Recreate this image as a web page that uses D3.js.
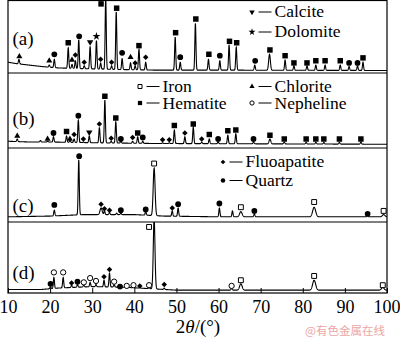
<!DOCTYPE html>
<html><head><meta charset="utf-8">
<script src="https://cdn.jsdelivr.net/npm/d3@7"></script>
<style>body{margin:0;background:#fff} svg{display:block}</style>
</head><body>
<script>
const xTicks = [10,20,30,40,50,60,70,80,90,100];
const panelLabels = ["(a)","(b)","(c)","(d)"];
const phaseNames = {iron:"Iron", hematite:"Hematite", chlorite:"Chlorite", nepheline:"Nepheline",
  fluoapatite:"Fluoapatite", quartz:"Quartz", calcite:"Calcite", dolomite:"Dolomite"};

// baselines [2θ, intensity a.u.]
const baselineA = [[10,15],[12,13],[15,11],[18,9],[22,7],[28,6],[35,5],[45,4],[60,4],[100,3.5]];
const baselineB = [[10,9],[15,8],[20,8],[30,7],[45,6],[100,5]];
const baselineC = [[10,7],[20,8],[28,10],[40,10],[47,8],[60,7],[100,7]];
const baselineD = [[10,5],[18,5],[22,7],[30,9],[38,8],[44,6],[50,4],[100,4]];

// peaks [2θ, top intensity, optional width]
const peaksA = [[12.6,19],[19.8,11],[21.0,19],[24.3,35],[25.2,12],[26.0,17],[26.8,46],[28.1,10],[29.5,37],[31.0,45],[32.0,14],[33.2,105],[34.6,10],[35.7,85],[37.1,20],[39.1,14],[40.2,10],[41.1,33],[42.7,15],[49.7,50],[50.9,15],[54.5,69],[57.6,19],[60.3,17],[62.5,39],[64.2,36],[68.6,11],[72.1,26,0.2],[75.8,18],[77.9,10],[81.0,10],[83.1,11],[85.3,11],[88.9,11],[91.0,9],[93.0,10],[94.3,15]];
const peaksB = [[12.2,12],[17.7,10],[19.4,9],[20.8,15],[23.9,16],[24.7,10],[25.7,12],[26.7,37],[27.9,8],[29.3,16],[31.7,27],[33.0,64],[34.5,9],[35.6,35],[36.8,9],[39.6,9],[40.8,15],[42.0,9],[46.7,7],[48.3,7],[49.5,24],[52.0,15],[54.0,28],[56.0,8],[57.8,12],[59.9,8],[62.2,17],[64.1,19],[68.3,8],[72.2,12,0.2],[75.6,8],[80.8,7.5],[83.1,7.5],[85.0,7.5],[88.7,7.5],[93.8,8]];
const peaksC = [[21.0,16],[26.8,84],[32.1,19,0.25],[32.9,15],[34.1,13],[35.8,12],[36.8,12],[42.7,14],[44.7,73,0.22],[49.0,15],[50.4,19],[60.2,19],[63.3,15],[65.3,14,0.3],[68.5,11],[82.7,20,0.35],[95.4,9],[99.2,10,0.3]];
const peaksD = [[20.1,9],[20.9,22],[23.1,22],[25.1,11],[26.5,12],[28.0,11],[29.5,15],[30.9,12],[32.8,18],[34.1,28],[35.2,12],[36.6,8],[38.2,8],[39.8,8],[41.3,8],[43.5,8],[44.7,105,0.2],[47.1,7],[63.1,7],[65.3,13,0.3],[82.7,18,0.35],[99.0,8,0.3]];

// phase markers [phase, 2θ, level]
const markersA = [["chlorite",12.7,23],["chlorite",19.8,17],["quartz",21.0,26],["hematite",24.3,42],["chlorite",25.2,18],["fluoapatite",26.0,25],["quartz",26.9,51],["fluoapatite",28.1,15],["calcite",29.5,43],["dolomite",31.0,51],["fluoapatite",32.0,19],["hematite",32.1,96],["fluoapatite",34.6,15],["hematite",35.8,90],["quartz",37.1,28],["chlorite",39.1,22],["fluoapatite",40.2,14],["hematite",41.1,38],["fluoapatite",42.7,22],["hematite",49.8,56],["quartz",50.9,22],["hematite",54.6,75],["hematite",57.7,26],["quartz",60.3,24],["hematite",62.6,44],["hematite",64.3,42],["quartz",68.7,17],["hematite",72.2,32],["hematite",75.8,24],["hematite",77.9,14],["hematite",81.0,14],["hematite",83.1,17],["hematite",85.3,17],["hematite",88.9,17],["quartz",91.0,14],["quartz",93.0,14],["hematite",94.3,21]];
const markersB = [["chlorite",12.2,16],["chlorite",19.4,12],["quartz",20.8,20],["hematite",23.9,22],["chlorite",24.7,12],["fluoapatite",25.7,18],["quartz",26.7,43],["fluoapatite",27.9,12],["calcite",29.3,21],["fluoapatite",31.7,32],["hematite",33.0,69],["fluoapatite",34.5,13],["hematite",35.6,40],["quartz",36.8,12],["fluoapatite",39.6,14],["hematite",40.8,20],["quartz",42.0,14],["fluoapatite",46.7,11],["fluoapatite",48.3,11],["hematite",49.5,30],["fluoapatite",52.0,20],["hematite",54.0,32],["fluoapatite",56.0,12],["hematite",57.8,18],["quartz",59.9,12],["hematite",62.2,23],["hematite",64.1,24],["quartz",68.3,12],["hematite",72.2,17],["hematite",75.6,12],["hematite",80.8,12],["hematite",83.1,12],["hematite",85.0,12],["hematite",88.7,12],["hematite",93.8,12]];
const markersC = [["quartz",21.0,23],["quartz",26.9,89],["fluoapatite",32.1,24],["fluoapatite",32.9,18],["fluoapatite",34.1,16],["quartz",36.8,16],["quartz",42.7,17],["iron",44.7,79],["fluoapatite",49.0,19],["quartz",50.4,24],["quartz",60.2,25],["iron",65.3,20],["quartz",68.5,15],["iron",82.7,27],["quartz",95.4,11],["iron",99.2,15]];
const markersD = [["quartz",20.1,13],["nepheline",20.9,29],["nepheline",23.1,29],["fluoapatite",25.1,14],["quartz",26.5,16],["nepheline",28.0,15],["nepheline",29.5,21],["nepheline",30.9,17],["fluoapatite",32.8,23],["fluoapatite",34.1,33],["nepheline",35.2,16],["quartz",36.6,9],["nepheline",38.2,10],["nepheline",39.8,11],["fluoapatite",41.3,10],["nepheline",43.5,11],["iron",43.5,93],["fluoapatite",47.1,12],["nepheline",63.1,10],["iron",65.3,18],["iron",82.7,24],["iron",99.0,11]];

const panels = [
  {baseline: baselineA, peaks: peaksA, markers: markersA},
  {baseline: baselineB, peaks: peaksB, markers: markersB},
  {baseline: baselineC, peaks: peaksC, markers: markersC},
  {baseline: baselineD, peaks: peaksD, markers: markersD}
];

// ---------- layout ----------
const W = 400, H = 338;
const FONT = "'Liberation Serif','Times New Roman',serif";
const x = d3.scaleLinear().domain([10,100]).range([8,387]);
const bands = [[1,73],[73,148],[148,222],[222,293]];
const labelBase = [45,125,211.5,278.5];

const svg = d3.select("body").append("svg").attr("width",W).attr("height",H);

const symDefs = {
  hematite:   {type:d3.symbolSquare, fill:"#000", rot:0, size:30, lsize:18},
  iron:       {type:d3.symbolSquare, fill:"#fff", rot:0, size:24, lsize:16},
  quartz:     {type:d3.symbolCircle, fill:"#000", rot:0, size:26, lsize:16},
  nepheline:  {type:d3.symbolCircle, fill:"#fff", rot:0, size:22, lsize:14},
  chlorite:   {type:d3.symbolTriangle, fill:"#000", rot:0, size:16, lsize:12},
  calcite:    {type:d3.symbolTriangle, fill:"#000", rot:180, size:18, lsize:13},
  fluoapatite:{type:d3.symbolSquare, fill:"#000", rot:45, size:15, lsize:11},
  dolomite:   {type:d3.symbolStar, fill:"#000", rot:0, size:20, lsize:15}
};
function drawSym(g, phase, cx, cy, legend){
  const s = symDefs[phase];
  g.append("path")
    .attr("d", d3.symbol().type(s.type).size(legend ? s.lsize : s.size)())
    .attr("transform", `translate(${cx},${cy}) rotate(${s.rot})`)
    .attr("fill", s.fill)
    .attr("stroke", s.fill === "#fff" ? "#000" : "none")
    .attr("stroke-width", 1);
}

function buildCurve(baseline, peaks){
  const bl = d3.scaleLinear().domain(baseline.map(d=>d[0])).range(baseline.map(d=>d[1]));
  const pts = [];
  for (let i = 0; i <= 3000; i++){
    const t = 10 + i*0.03;
    let v = bl(t);
    for (const p of peaks){
      const s = p[2] || 0.13;
      const dx = (t - p[0]) / s;
      if (Math.abs(dx) < 6) v += (p[1] - bl(p[0])) * Math.exp(-0.5*dx*dx);
    }
    pts.push([t, v]);
  }
  return pts;
}

const defs = svg.append("defs");
panels.forEach((p, i) => {
  const [top, bot] = bands[i];
  const y = d3.scaleLinear().domain([0,100]).range([bot, top]);
  defs.append("clipPath").attr("id","clip"+i).append("rect")
    .attr("x", x(10)).attr("y", top).attr("width", x(100)-x(10)).attr("height", bot-top);
  const g = svg.append("g");
  const line = d3.line().x(d=>x(d[0])).y(d=>y(d[1]));
  g.append("path").datum(buildCurve(p.baseline, p.peaks))
    .attr("clip-path", `url(#clip${i})`)
    .attr("d", line).attr("fill","none").attr("stroke","#000").attr("stroke-width",1.1);
  p.markers.forEach(m => drawSym(g, m[0], x(m[1]), y(m[2]), false));
  g.append("text").attr("x", 12.5).attr("y", labelBase[i])
    .attr("font-family", FONT).attr("font-size", 19).text(panelLabels[i]);
});

// frame and separators
svg.append("rect").attr("x", x(10)).attr("y", 0.5).attr("width", x(100)-x(10)).attr("height", 293-0.5)
  .attr("fill","none").attr("stroke","#000").attr("stroke-width",1.2);
[73,148,222].forEach(yy => svg.append("line").attr("x1",x(10)).attr("x2",x(100))
  .attr("y1",yy).attr("y2",yy).attr("stroke","#000").attr("stroke-width",1.2));

// x axis
const axis = svg.append("g").attr("transform","translate(0,293)")
  .call(d3.axisBottom(x).tickValues(xTicks).tickSize(-5).tickPadding(7).tickFormat(d3.format("d")));
axis.select(".domain").remove();
axis.selectAll("line").attr("stroke","#000");
axis.selectAll("text").attr("font-family",FONT).attr("font-size",18).attr("fill","#000");
axis.selectAll("text").filter(d => d === 100).attr("dx", -0.5);

// axis title
const ttl = svg.append("text").attr("x", 198).attr("y", 333).attr("text-anchor","middle")
  .attr("font-family",FONT).attr("font-size",19);
ttl.append("tspan").text("2");
ttl.append("tspan").attr("font-style","italic").text("θ");
ttl.append("tspan").text("/(°)");

// legends
const legendItems = [
  ["calcite", 252, 12, 17],
  ["dolomite", 252, 32, 37],
  ["iron", 140, 86.5, 91.5],
  ["hematite", 140, 103, 108.5],
  ["chlorite", 252, 86.5, 91.5],
  ["nepheline", 252, 103, 108.5],
  ["fluoapatite", 223, 162, 167],
  ["quartz", 223, 180.5, 185.5]
];
legendItems.forEach(([ph, sx, sy, by]) => {
  const g = svg.append("g");
  drawSym(g, ph, sx, sy, true);
  g.append("line").attr("x1", sx+6.5).attr("x2", sx+19.5).attr("y1", sy).attr("y2", sy)
    .attr("stroke","#000").attr("stroke-width",1);
  g.append("text").attr("x", sx+22.5).attr("y", by).attr("font-family",FONT).attr("font-size",17.5)
    .text(phaseNames[ph]);
});

// watermark
svg.append("text").attr("x", 305).attr("y", 335)
  .attr("font-family","'Noto Sans CJK SC',sans-serif").attr("font-size",11.5)
  .attr("fill","#eba5a5").text("@有色金属在线");
</script>
</body></html>
